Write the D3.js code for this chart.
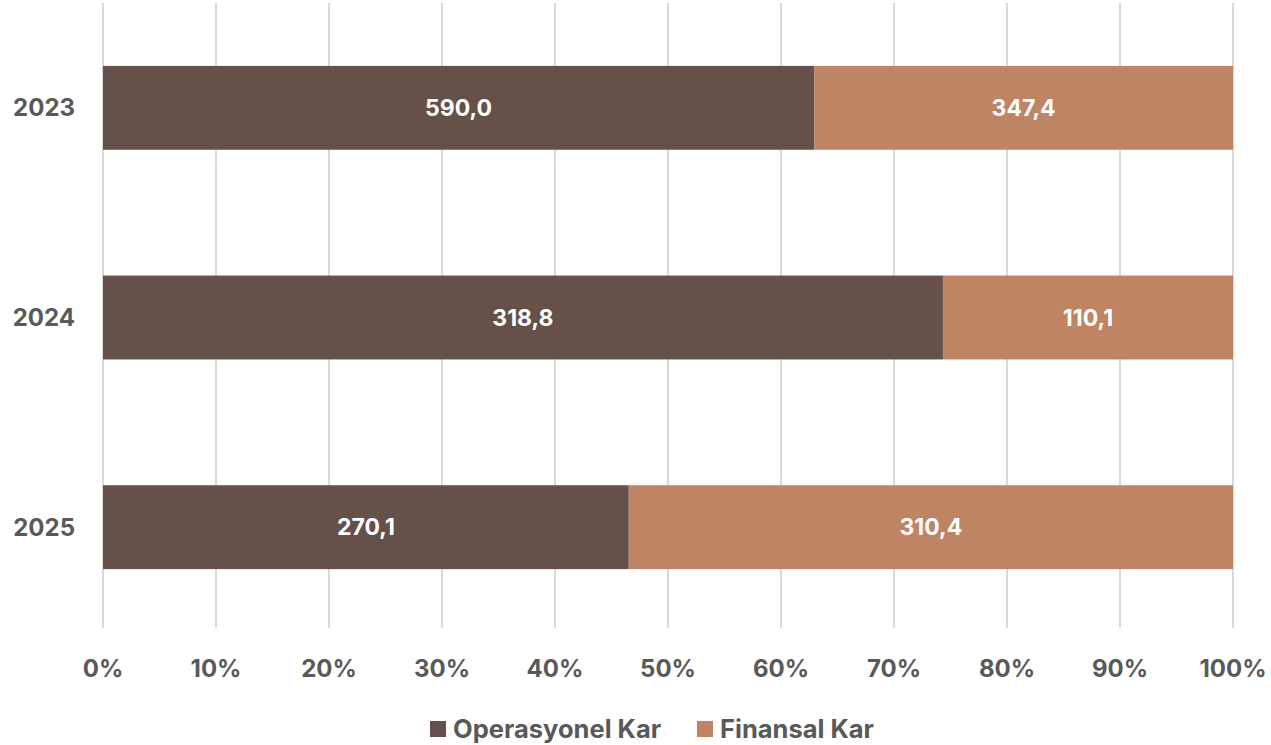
<!DOCTYPE html>
<html><head><meta charset="utf-8">
<script src="https://cdn.jsdelivr.net/npm/d3@7"></script>
<style>body{margin:0;background:#fff}svg{display:block}text{font-family:Inter,Roboto,"Liberation Sans",sans-serif;font-weight:700}</style>
</head><body><svg id="c" width="1271" height="745"></svg>
<script>
const categories = ["2023","2024","2025"];
const seriesNames = ["Operasyonel Kar","Finansal Kar"];
const operasyonel = [590.0, 318.8, 270.1];
const finansal = [347.4, 110.1, 310.4];
const ticks = [0,0.1,0.2,0.3,0.4,0.5,0.6,0.7,0.8,0.9,1.0];
const colors = ["#66504A","#BE8464"];

const svg = d3.select("#c");
const x = d3.scaleLinear().domain([0,1]).range([103,1233]);
const y = d3.scaleBand().domain(categories).range([3,632]).paddingInner(0.6).paddingOuter(0.3);
const fmt = v => v.toFixed(1).replace(".", ",");

// gridlines
svg.append("g").selectAll("line").data(ticks).join("line")
  .attr("x1", d=>x(d)).attr("x2", d=>x(d)).attr("y1",3).attr("y2",628)
  .attr("stroke","#d9d9d9").attr("stroke-width",2);

const rows = categories.map((c,i)=>{
  const t = operasyonel[i]+finansal[i];
  return {c, segs:[{s:0,v:operasyonel[i],a:0,b:operasyonel[i]/t},{s:1,v:finansal[i],a:operasyonel[i]/t,b:1}]};
});
const g = svg.append("g");
rows.forEach(r=>{
  r.segs.forEach(s=>{
    g.append("rect").attr("x",x(s.a)).attr("width",x(s.b)-x(s.a))
      .attr("y",y(r.c)).attr("height",y.bandwidth()).attr("fill",colors[s.s]);
    g.append("text").attr("x",(x(s.a)+x(s.b))/2).attr("y",y(r.c)+y.bandwidth()/2)
      .attr("dy","0.36em").attr("text-anchor","middle").attr("fill","#fff")
      .attr("font-size",23).text(fmt(s.v));
  });
});

// y labels
svg.append("g").selectAll("text").data(categories).join("text")
  .attr("x",75).attr("y",d=>y(d)+y.bandwidth()/2).attr("dy","0.36em")
  .attr("text-anchor","end").attr("fill","#595959").attr("font-size",24).text(d=>d);

// x labels
svg.append("g").selectAll("text").data(ticks).join("text")
  .attr("x",d=>x(d)).attr("y",668).attr("dy","0.36em")
  .attr("text-anchor","middle").attr("fill","#595959").attr("font-size",24)
  .text(d=>d3.format(".0%")(d));

// legend
const lg = svg.append("g");
const lx = [430, 697];
seriesNames.forEach((n,i)=>{
  lg.append("rect").attr("x",lx[i]).attr("y",721).attr("width",16).attr("height",16).attr("fill",colors[i]);
  lg.append("text").attr("x",lx[i]+23).attr("y",729).attr("dy","0.36em").attr("fill","#595959")
    .attr("font-size",25.5).text(n);
});
</script></body></html>
